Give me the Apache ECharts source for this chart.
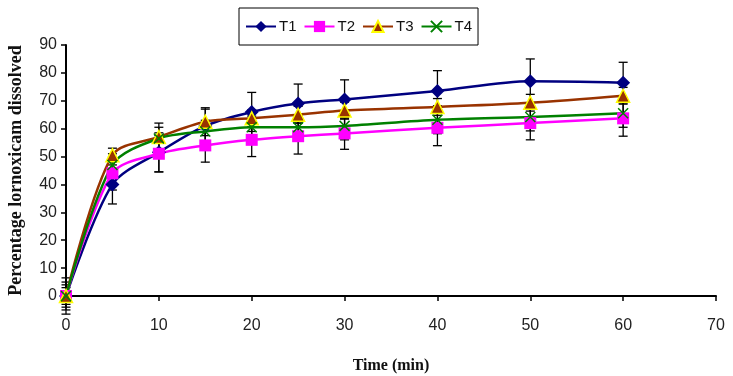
<!DOCTYPE html>
<html>
<head>
<meta charset="utf-8">
<script src="https://cdn.jsdelivr.net/npm/echarts@6/dist/echarts.min.js"></script>
<style>
  html, body { margin: 0; padding: 0; background: #fff; }
  #main { width: 733px; height: 376px; }
</style>
</head>
<body>
<div id="main"></div>
<script>
var times = [0, 5, 10, 15, 20, 25, 30, 40, 50, 60];
var t1 = [0, 40, 51.5, 61, 66, 69, 70.5, 73.5, 77, 76.5];
var t2 = [0, 44, 51, 54, 56, 57.3, 58.3, 60.3, 62, 63.7];
var t3 = [0, 50.5, 57, 62.5, 63.7, 65, 66.5, 67.8, 69.3, 71.8];
var t4 = [0, 47, 56.5, 59, 60.5, 60.5, 61, 63.2, 64.2, 65.5];
var sd1 = [6.5, 7, 7, 6, 7, 7, 7, 7.3, 8, 7.3];
var sd2 = [5, 6, 6.5, 6, 6, 6.4, 5.7, 6.4, 6, 6.4];
var sd3 = [4, 2.5, 5, 5, 3, 3, 3, 3, 3, 3];
var sd4 = [3, 4, 4, 4, 4, 4, 5, 5, 5, 5];

var myChart = echarts.init(document.getElementById('main'));

function pairs(vals) {
  return times.map(function (t, i) { return [t, vals[i]]; });
}
function errData(vals, sd) {
  return times.map(function (t, i) { return [t, vals[i] - sd[i], vals[i] + sd[i]]; });
}
function errRender(params, api) {
  var lo = api.coord([api.value(0), api.value(1)]);
  var hi = api.coord([api.value(0), api.value(2)]);
  var w = 4.5;
  var st = { stroke: '#000', lineWidth: 1.3 };
  return {
    type: 'group',
    children: [
      { type: 'line', shape: { x1: lo[0], y1: lo[1], x2: hi[0], y2: hi[1] }, style: st },
      { type: 'line', shape: { x1: lo[0] - w, y1: lo[1], x2: lo[0] + w, y2: lo[1] }, style: st },
      { type: 'line', shape: { x1: hi[0] - w, y1: hi[1], x2: hi[0] + w, y2: hi[1] }, style: st }
    ]
  };
}
function errSeries(vals, sd) {
  return {
    type: 'custom',
    renderItem: errRender,
    data: errData(vals, sd),
    encode: { x: 0, y: [1, 2] },
    z: 1,
    silent: true
  };
}

var crossPath = 'path://M0,0L10,10M10,0L0,10';

var option = {
  animation: false,
  grid: { left: 66, right: 17, top: 45, bottom: 80, outerBoundsMode: 'none', containLabel: false },
  legend: {
    data: ['T1', 'T2', 'T3', 'T4'],
    left: 239,
    top: 8,
    orient: 'horizontal',
    width: 300,
    padding: [11, 6, 11, 6],
    itemGap: 7,
    itemWidth: 30,
    itemHeight: 14,
    borderColor: '#000',
    borderWidth: 1,
    textStyle: { fontFamily: 'Liberation Sans', fontSize: 15, color: '#111', padding: [0, 0, 0, -2] }
  },
  xAxis: {
    type: 'value',
    min: 0, max: 70, interval: 10,
    name: 'Time (min)',
    nameLocation: 'middle',
    nameGap: 62,
    nameTextStyle: { fontFamily: 'Liberation Serif', fontWeight: 'bold', fontSize: 16, color: '#111' },
    axisLine: { lineStyle: { color: '#000', width: 2 } },
    axisTick: { lineStyle: { color: '#000', width: 1.5 }, length: 5 },
    axisLabel: { fontFamily: 'Liberation Sans', fontSize: 16, color: '#222', margin: 22 },
    splitLine: { show: false }
  },
  yAxis: {
    type: 'value',
    min: 0, max: 90, interval: 10,
    name: 'Percentage lornoxicam dissolved',
    nameLocation: 'middle',
    nameGap: 41,
    nameTextStyle: { fontFamily: 'Liberation Serif', fontWeight: 'bold', fontSize: 18, color: '#111' },
    axisLine: { show: true, lineStyle: { color: '#000', width: 2 } },
    axisTick: { show: true, lineStyle: { color: '#000', width: 1.5 }, length: 5 },
    axisLabel: { fontFamily: 'Liberation Sans', fontSize: 16, color: '#222', margin: 9 },
    splitLine: { show: false }
  },
  series: [
    errSeries(t1, sd1),
    errSeries(t2, sd2),
    errSeries(t3, sd3),
    errSeries(t4, sd4),
    {
      name: 'T1', type: 'line', data: pairs(t1), smooth: 0.3,
      symbol: 'diamond', symbolSize: 14,
      lineStyle: { color: '#000080', width: 2.5 },
      itemStyle: { color: '#000080' }, z: 3
    },
    {
      name: 'T2', type: 'line', data: pairs(t2), smooth: 0.3,
      symbol: 'rect', symbolSize: 12,
      lineStyle: { color: '#FF00FF', width: 2.5 },
      itemStyle: { color: '#FF00FF' }, z: 3
    },
    {
      name: 'T3', type: 'line', data: pairs(t3), smooth: 0.3,
      symbol: 'triangle', symbolSize: 13,
      lineStyle: { color: '#993300', width: 2.5 },
      itemStyle: { color: '#993300', borderColor: '#FFFF00', borderWidth: 1.5 }, z: 3
    },
    {
      name: 'T4', type: 'line', data: pairs(t4), smooth: 0.3,
      symbol: crossPath, symbolSize: 10,
      lineStyle: { color: '#008000', width: 2.5 },
      itemStyle: { color: 'rgba(0,0,0,0)', borderColor: '#008000', borderWidth: 1.5 }, z: 3
    }
  ]
};
myChart.setOption(option);
</script>
</body>
</html>
